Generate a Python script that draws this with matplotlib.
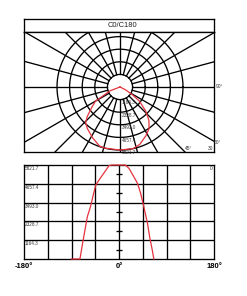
import matplotlib
matplotlib.use("Agg")
import matplotlib.pyplot as plt
import numpy as np

# photometric data (angle from nadir in degrees, intensity in cd)
angles = [-90, -74, -69, -60, -54, -48, -44, -38, -28, -19, -14, 0, 12, 19, 28, 35, 41, 47, 54, 58, 63, 66]
intensity = [0, 0, 970, 2620, 3240, 4070, 4580, 4890, 5350, 5780, 5821.7, 5821.7, 5821.7,
             5610, 5100, 4690, 4070, 3240, 2210, 1380, 560, 0]
ring_values = [1164.3, 2328.7, 3493.0, 4657.4, 5821.7]
ring_labels = ["1164.3", "2328.7", "3493.0", "4657.4", "5821.7"]
x_ticks = [-180, 0, 180]
x_ticklabels = ["-180°", "0°", "180°"]
title = "C0/C180"

plt.rcParams['font.family'] = ['Liberation Sans', 'DejaVu Sans']
W, H = 247, 296
fig = plt.figure(figsize=(W / 100, H / 100), dpi=100)
red = '#e4333d'
lw = 0.95
txt = '#333333'

def frac(x0, y0, x1, y1):
    return [x0 / W, 1 - y1 / H, (x1 - x0) / W, (y1 - y0) / H]

# title strip
axt = fig.add_axes(frac(24, 19, 214, 32))
axt.set_xticks([]); axt.set_yticks([])
for s in axt.spines.values():
    s.set_linewidth(lw)
axt.text(0.52, 0.5, title, ha='center', va='center', fontsize=5.4, color='#222222',
         transform=axt.transAxes)

# polar diagram drawn in a cartesian box
k = 63 / 5821.7  # px per cd
axp = fig.add_axes(frac(24, 32, 214, 152))
axp.set_xlim(-96 / k, 94 / k)
axp.set_ylim(-65 / k, 55 / k)
axp.set_xticks([]); axp.set_yticks([])
for s in axp.spines.values():
    s.set_linewidth(lw)
t = np.linspace(0, 2 * np.pi, 400)
for r in ring_values:
    axp.plot(r * np.cos(t), r * np.sin(t), color='black', lw=lw)
for a in np.arange(0, 360, 15):
    ar = np.radians(a)
    axp.plot([ring_values[0] * np.cos(ar), 20000 * np.cos(ar)],
             [ring_values[0] * np.sin(ar), 20000 * np.sin(ar)], color='black', lw=lw)
g = np.radians(angles)
I = np.array(intensity)
axp.plot(I * np.sin(g), -I * np.cos(g), color=red, lw=0.9, zorder=5)
for r, lab in zip(ring_values, ring_labels):
    axp.text(1.5 / k, -r - 0.5 / k, lab, fontsize=3.3, color=txt, ha='left', va='top', zorder=6)
axp.text(1.01, 65 / 120, "90°", fontsize=3.5, color=txt, ha='left', va='center',
         transform=axp.transAxes, clip_on=False)
axp.text(1.0, 10 / 120, "60°", fontsize=3.5, color=txt, ha='left', va='center',
         transform=axp.transAxes, clip_on=False)
axp.text(161 / 190, 0.01, "45°", fontsize=3.5, color=txt, ha='left', va='bottom',
         transform=axp.transAxes)
axp.text(0.995, 0.01, "30", fontsize=3.5, color=txt, ha='right', va='bottom',
         transform=axp.transAxes)

# cartesian diagram
axc = fig.add_axes(frac(24, 165, 214, 259))
axc.set_xlim(-180, 180)
axc.set_ylim(0, ring_values[-1])
axc.set_xticks(x_ticks)
axc.set_xticklabels(x_ticklabels, fontsize=5.5, fontweight='bold')
axc.set_yticks([])
axc.tick_params(length=0, pad=3)
for s in axc.spines.values():
    s.set_linewidth(lw)
for xv in np.arange(-135, 180, 45):
    axc.axvline(xv, color='black', lw=lw)
for yv in ring_values[:-1]:
    axc.axhline(yv, color='black', lw=lw)
mids = [v - ring_values[0] / 2 for v in ring_values]
axc.plot([0] * len(mids), mids, ls='', marker='_', ms=5, mew=lw, color='black')
axc.plot(angles, intensity, color=red, lw=0.9, zorder=5, clip_on=False)
for v, lab in zip(ring_values, ring_labels):
    axc.text(-179, v - 60, lab, fontsize=3.3, color=txt, ha='left', va='top')
axc.text(178, ring_values[-1] - 60, "0", fontsize=3.5, color=txt, ha='right', va='top')

fig.savefig("out.png", dpi=100)
